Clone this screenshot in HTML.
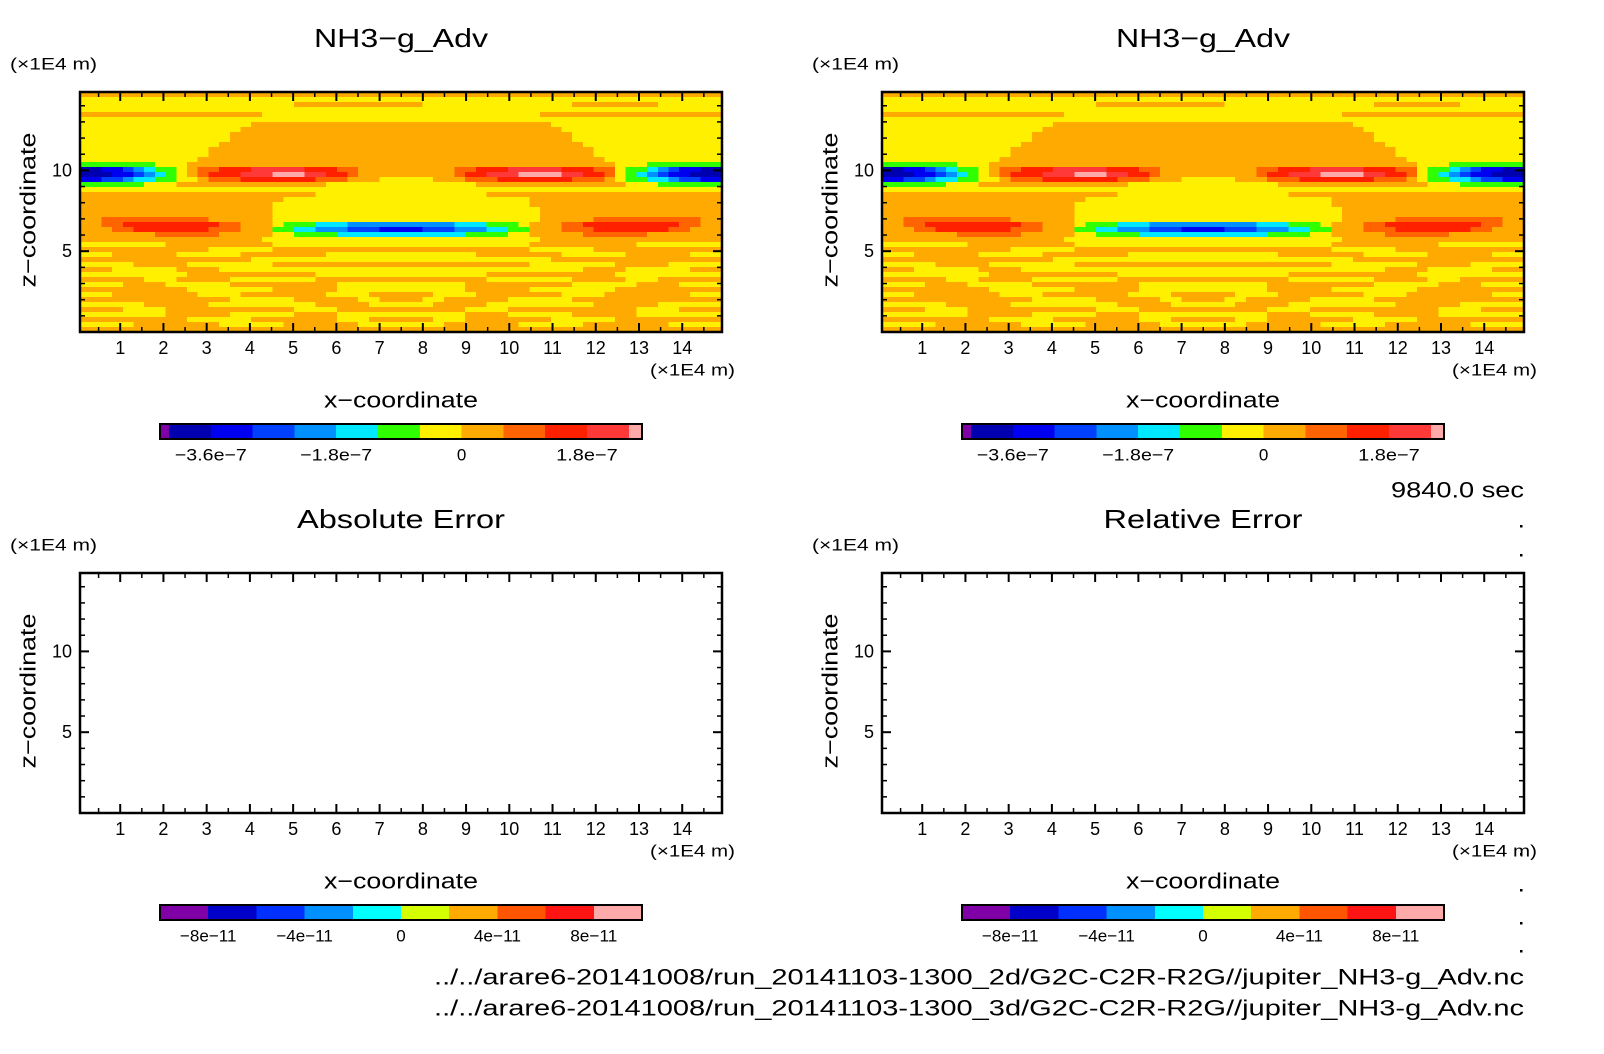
<!DOCTYPE html>
<html><head><meta charset="utf-8">
<style>
html,body{margin:0;padding:0;background:#fff;}
svg{display:block;font-family:"Liberation Sans",sans-serif;}
</style></head>
<body>
<svg id="fig" xmlns="http://www.w3.org/2000/svg" width="1604" height="1054" viewBox="0 0 1604 1054">
<rect width="1604" height="1054" fill="#fff"/>
<text x="1524" y="490" font-size="22" text-anchor="end" dominant-baseline="central" textLength="133" lengthAdjust="spacingAndGlyphs">9840.0 sec</text>
<text x="1524" y="977" font-size="22" text-anchor="end" dominant-baseline="central" textLength="1090" lengthAdjust="spacingAndGlyphs">../../arare6-20141008/run_20141103-1300_2d/G2C-C2R-R2G//jupiter_NH3-g_Adv.nc</text>
<text x="1524" y="1008" font-size="22" text-anchor="end" dominant-baseline="central" textLength="1090" lengthAdjust="spacingAndGlyphs">../../arare6-20141008/run_20141103-1300_3d/G2C-C2R-R2G//jupiter_NH3-g_Adv.nc</text>
</svg>
<script>
// ---- data ----
const xDomain = [0.07, 14.92];
const zDomain = [0, 14.85];
const xTicks = [1,2,3,4,5,6,7,8,9,10,11,12,13,14];
const zTicks = [5,10];
const topLevelColors = ['#8000a8','#0000b0','#0000f0','#0040ff','#0090ff','#00e8ff','#30ff00','#fff000','#ffaa00','#ff6400','#ff2000','#ff3838','#ffaaaa'];
const topLevelBounds = [-4.33,-4.2,-3.6,-3.0,-2.4,-1.8,-1.2,-0.6,0,0.6,1.2,1.8,2.4,2.59];
const topTickValues = [-3.6,-1.8,0,1.8];
const topTickLabels = ['\u22123.6e\u22127','\u22121.8e\u22127','0','1.8e\u22127'];
const errLevelColors = ['#8000a8','#0000c8','#0030ff','#0090ff','#00ffff','#d4ff00','#ffaa00','#ff5500','#ff1414','#ffaaaa'];
const errLevelBounds = [-10,-8,-6,-4,-2,0,2,4,6,8,10];
const errTickValues = [-8,-4,0,4,8];
const errTickLabels = ['\u22128e\u221211','\u22124e\u221211','0','4e\u221211','8e\u221211'];
const fieldCols = 60;
// run-length rows (level:count), top row first; level digits 0-9,a,b,c
const fieldRows = [
"8:60","7:60","7:20,8:12,7:14,8:8,7:6","7:60","8:17,7:26,8:17","7:60",
"7:16,8:28,7:16","7:15,8:30,7:15","7:14,8:32,7:14","7:14,8:32,7:14","7:13,8:34,7:13",
"7:12,8:36,7:12","7:12,8:36,7:12","7:11,8:38,7:11","6:7,7:3,8:40,7:3,6:7",
"1:2,2:2,3:1,4:1,5:1,6:2,7:1,8:1,9:2,a:3,b:5,a:3,9:2,8:9,9:2,a:3,b:5,a:3,9:2,7:1,6:2,5:1,4:1,3:1,2:2,1:2",
"1:3,2:2,3:1,4:1,5:1,6:1,7:1,8:1,9:1,a:3,b:3,c:3,b:2,a:2,9:1,8:9,9:1,a:2,b:3,c:4,b:2,a:2,9:1,7:1,6:1,5:1,4:1,3:1,2:2,1:3",
"2:2,3:2,4:1,5:2,6:2,7:2,8:1,9:3,a:7,9:3,8:1,8:2,7:5,8:2,8:1,9:3,a:7,9:3,8:1,7:1,6:2,5:2,4:1,3:2,2:2",
"6:6,7:3,8:14,7:14,8:14,7:3,6:6","7:60","8:22,7:16,8:22","8:19,7:23,8:18","8:18,7:24,8:18",
"8:18,7:25,8:17","8:18,7:25,8:17","8:2,9:10,8:6,7:25,8:5,9:10,8:2",
"8:2,9:2,a:9,9:2,8:3,7:1,6:3,5:3,4:10,5:3,6:3,7:1,8:3,9:2,a:9,9:2,8:2",
"8:3,9:2,a:7,9:3,8:3,6:2,5:2,4:3,3:3,2:4,3:3,4:3,5:2,6:2,8:3,9:3,a:7,9:2,8:3",
"8:7,9:6,8:5,7:2,6:4,5:12,6:4,7:2,8:5,9:6,8:7",
"8:17,7:26,8:17","7:8,8:10,7:24,8:10,7:8","8:12,7:6,8:24,7:6,8:12",
"7:3,8:6,7:6,8:8,7:14,8:8,7:6,8:6,7:3","8:16,7:28,8:16","7:5,8:5,7:8,8:24,7:8,8:5,7:5",
"8:3,7:6,8:4,7:34,8:4,7:6,8:3","7:10,8:12,7:16,8:12,7:10","8:6,7:3,8:5,7:8,8:16,7:8,8:5,7:3,8:6",
"7:4,8:4,7:6,8:10,7:12,8:10,7:6,8:4,7:4","8:10,7:8,8:6,7:12,8:6,7:8,8:10",
"7:3,8:8,7:4,8:8,7:4,8:6,7:4,8:8,7:4,8:8,7:3","8:14,7:6,8:6,7:2,8:4,7:2,8:6,7:6,8:14",
"7:6,8:6,7:10,8:5,7:6,8:5,7:10,8:6,7:6","8:4,7:4,8:12,7:4,8:12,7:4,8:12,7:4,8:4",
"7:8,8:6,7:6,8:4,7:12,8:4,7:6,8:6,7:8","8:10,7:6,8:8,7:3,8:6,7:3,8:8,7:6,8:10",
"7:5,8:8,7:6,8:7,7:8,8:7,7:6,8:8,7:5","8:60"
];
const panels = [
 {name:'nh3-adv-2d', title:'NH3\u2212g_Adv', tw:174, x0:80, y0:92, field:true, colors:topLevelColors, bounds:topLevelBounds, tv:topTickValues, tl:topTickLabels, lw:72},
 {name:'nh3-adv-3d', title:'NH3\u2212g_Adv', tw:174, x0:882, y0:92, field:true, colors:topLevelColors, bounds:topLevelBounds, tv:topTickValues, tl:topTickLabels, lw:72},
 {name:'absolute-error', title:'Absolute Error', tw:208, x0:80, y0:573, field:false, colors:errLevelColors, bounds:errLevelBounds, tv:errTickValues, tl:errTickLabels, lw:66},
 {name:'relative-error', title:'Relative Error', tw:199, x0:882, y0:573, field:false, colors:errLevelColors, bounds:errLevelBounds, tv:errTickValues, tl:errTickLabels, lw:66}
];
const dotYs = [526,555,854,890,923,951];

// ---- drawing ----
const NS='http://www.w3.org/2000/svg';
const svg=document.getElementById('fig');
function mk(tag, attrs, parent){const e=document.createElementNS(NS,tag);for(const k in attrs)e.setAttribute(k,attrs[k]);(parent||svg).appendChild(e);return e;}
const PW=642, PH=240;
function parseRow(s){const out=[];s.split(',').forEach(p=>{const [l,n]=p.split(':');const lv=parseInt(l,16);for(let i=0;i<+n;i++)out.push(lv);});while(out.length<fieldCols)out.push(out[out.length-1]);return out.slice(0,fieldCols);}
const grid=fieldRows.map(parseRow);

panels.forEach(p=>{
  const g=mk('g',{});
  
  
  const sx=u=>p.x0+(u-xDomain[0])/(xDomain[1]-xDomain[0])*PW;
  const sz=z=>p.y0+PH-(z-zDomain[0])/(zDomain[1]-zDomain[0])*PH;
  if(p.field){
    const fg=mk('g',{'shape-rendering':'crispEdges'},g);
    
    
    const nR=grid.length, dx=(xDomain[1]-xDomain[0])/fieldCols, dz=(zDomain[1]-zDomain[0])/nR;
    grid.forEach((row,r)=>{
      let c=0;
      while(c<fieldCols){let c2=c;while(c2<fieldCols&&row[c2]===row[c])c2++;
        const xa=sx(xDomain[0]+c*dx), xb=sx(xDomain[0]+c2*dx);
        const ya=sz(zDomain[1]-r*dz), yb=sz(zDomain[1]-(r+1)*dz);
        const rc=mk('rect',{x:xa,y:ya,width:xb-xa+0.5,height:yb-ya+0.5,fill:p.colors[row[c]]},fg);
        
        
        c=c2;}
    });
  }
  const fr=mk('rect',{x:p.x0,y:p.y0,width:PW,height:PH,fill:'none',stroke:'#000','stroke-width':2.5},g);
  
  
  for(let u=0.5;u<xDomain[1];u+=0.5){
    const major=Math.abs(u-Math.round(u))<1e-6; const L=major?9:5; const x=sx(u);
    mk('line',{x1:x,y1:p.y0+PH,x2:x,y2:p.y0+PH-L,stroke:'#000','stroke-width':major?2:1.5},g);
    mk('line',{x1:x,y1:p.y0,x2:x,y2:p.y0+L,stroke:'#000','stroke-width':major?2:1.5},g);
  }
  for(let z=1;z<zDomain[1];z+=1){
    const major=z%5===0; const L=major?9:5; const y=sz(z);
    mk('line',{x1:p.x0,y1:y,x2:p.x0+L,y2:y,stroke:'#000','stroke-width':major?2:1.5},g);
    mk('line',{x1:p.x0+PW,y1:y,x2:p.x0+PW-L,y2:y,stroke:'#000','stroke-width':major?2:1.5},g);
  }
  xTicks.forEach(t=>{const e=mk('text',{x:sx(t),y:p.y0+PH+16,'font-size':18,'text-anchor':'middle','dominant-baseline':'central'},g);e.textContent=t;
    
    });
  zTicks.forEach(t=>{const e=mk('text',{x:p.x0-8,y:sz(t),'font-size':18,'text-anchor':'end','dominant-baseline':'central'},g);e.textContent=t;
    
    });
  let e=mk('text',{x:p.x0+321,y:p.y0-54,'font-size':26,'text-anchor':'middle','dominant-baseline':'central',textLength:p.tw,lengthAdjust:'spacingAndGlyphs'},g);e.textContent=p.title;
  
  
  e=mk('text',{x:p.x0-70,y:p.y0-28,'font-size':17,'dominant-baseline':'central',textLength:87,lengthAdjust:'spacingAndGlyphs'},g);e.textContent='(\u00d71E4 m)';
  
  
  e=mk('text',{x:p.x0+570,y:p.y0+PH+38,'font-size':17,'dominant-baseline':'central',textLength:85,lengthAdjust:'spacingAndGlyphs'},g);e.textContent='(\u00d71E4 m)';
  
  
  e=mk('text',{x:p.x0+321,y:p.y0+PH+68,'font-size':22,'text-anchor':'middle','dominant-baseline':'central',textLength:154,lengthAdjust:'spacingAndGlyphs'},g);e.textContent='x\u2212coordinate';
  
  
  e=mk('text',{x:0,y:0,'font-size':22,'text-anchor':'middle','dominant-baseline':'central',textLength:155,lengthAdjust:'spacingAndGlyphs',transform:`translate(${p.x0-52},${p.y0+118}) rotate(-90)`},g);e.textContent='z\u2212coordinate';
  
  
  const cb=mk('g',{'shape-rendering':'crispEdges'},g);
  
  
  const cbx=p.x0+80, cbw=482, cby=p.y0+332, cbh=15;
  const b=p.bounds, cs=v=>cbx+(v-b[0])/(b[b.length-1]-b[0])*cbw;
  p.colors.forEach((col,i)=>{const r=mk('rect',{x:cs(b[i]),y:cby,width:cs(b[i+1])-cs(b[i])+0.5,height:cbh,fill:col},cb);
    
    });
  mk('rect',{x:cbx,y:cby,width:cbw,height:cbh,fill:'none',stroke:'#000','stroke-width':2},cb);
  p.tv.forEach((v,i)=>{const lab=p.tl[i]; const attrs={x:cs(v),y:cby+31,'font-size':17,'text-anchor':'middle','dominant-baseline':'central'};
    if(lab.length>1){attrs.textLength=lab.length>=7?p.lw:(lab.length*p.lw/7);attrs.lengthAdjust='spacingAndGlyphs';}
    const t=mk('text',attrs,g);t.textContent=lab;
    
    });
});
dotYs.forEach(y=>{const d=mk('rect',{x:1520,y:y-1,width:2.5,height:2.5,fill:'#000'});
  
  });
</script>
</body></html>
